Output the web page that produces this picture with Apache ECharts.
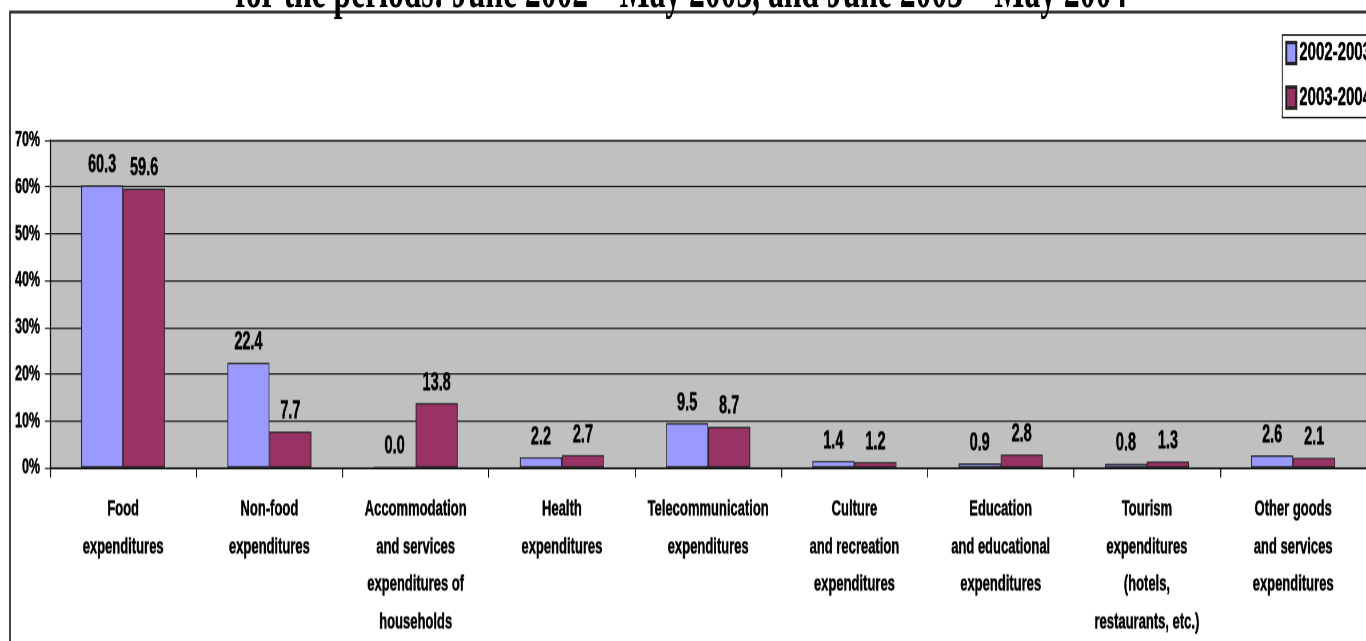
<!DOCTYPE html>
<html>
<head>
<meta charset="utf-8">
<script src="https://cdn.jsdelivr.net/npm/echarts@6/dist/echarts.min.js"></script>
<style>
html,body{margin:0;padding:0;background:#fff;width:1366px;height:641px;}
#wrap{width:1366px;height:641px;position:relative;}
#chart{position:absolute;left:0;top:0;width:1366px;height:366.2857px;transform:scaleY(1.75);transform-origin:0 0;}
</style>
</head>
<body>
<div id="wrap"><div id="chart"></div></div>
<script>
const categories = [
  "Food\nexpenditures",
  "Non-food\nexpenditures",
  "Accommodation\nand services\nexpenditures of\nhouseholds",
  "Health\nexpenditures",
  "Telecommunication\nexpenditures",
  "Culture\nand recreation\nexpenditures",
  "Education\nand educational\nexpenditures",
  "Tourism\nexpenditures\n(hotels,\nrestaurants, etc.)",
  "Other goods\nand services\nexpenditures"
];
const seriesNames = ["2002-2003", "2003-2004"];
const values2002_2003 = [60.3, 22.4, 0.0, 2.2, 9.5, 1.4, 0.9, 0.8, 2.6];
const values2003_2004 = [59.6, 7.7, 13.8, 2.7, 8.7, 1.2, 2.8, 1.3, 2.1];
const yTicks = [0, 10, 20, 30, 40, 50, 60, 70];
const titleText = "for the periods: June 2002 \u2013 May 2003, and June 2003 \u2013 May 2004";

// The picture is stretched vertically; layout is done in unstretched coordinates.
const SY = 1.75;
const SANS = '"Liberation Sans", Arial, sans-serif';
const thick = {textBorderColor: '#000', textBorderWidth: 0.3};

const chart = echarts.init(document.getElementById('chart'), null, {renderer: 'canvas', devicePixelRatio: SY});
const labelStyle = Object.assign({
  show: true, position: 'top', distance: 4,
  fontFamily: SANS, fontWeight: 'bold', fontSize: 14.5, color: '#000',
  formatter: p => p.value.toFixed(1)
}, thick);
chart.setOption({
  backgroundColor: '#ffffff',
  animation: false,
  title: {
    text: titleText,
    left: 676, top: -25, textAlign: 'center',
    textStyle: {fontFamily: '"Liberation Serif", "Times New Roman", serif', fontWeight: 'bold', fontSize: 31.6, color: '#000'}
  },
  graphic: [{
    type: 'rect', z: -10, silent: true,
    shape: {x: 10, y: 12 / SY, width: 1400, height: 700},
    style: {fill: '#fff', stroke: '#333', lineWidth: 1.6}
  }],
  legend: {
    orient: 'vertical', left: 1282, top: 35 / SY,
    data: seriesNames,
    icon: 'rect', itemWidth: 10, itemHeight: 12, itemGap: 10,
    padding: [2.7, 40, 3.8, 3],
    backgroundColor: '#fff', borderColor: '#000', borderWidth: 0.8,
    textStyle: Object.assign({fontFamily: SANS, fontWeight: 'bold', fontSize: 15, lineHeight: 14, color: '#000', padding: [0, 0, 0, -2]}, thick)
  },
  grid: {left: 50, top: 140 / SY, width: 1320, height: 328 / SY, containLabel: false,
    show: true, backgroundColor: '#C0C0C0', borderColor: '#808080', borderWidth: 0.7},
  xAxis: {
    type: 'category', data: categories, boundaryGap: true,
    axisLine: {show: true, lineStyle: {color: '#000', width: 0.7}},
    axisTick: {show: true, length: 10 / SY, inside: false, lineStyle: {color: '#000', width: 1}},
    axisLabel: Object.assign({interval: 0, margin: 13, fontFamily: SANS, fontWeight: 'bold', fontSize: 13, lineHeight: 21.5, color: '#000', align: 'center'}, thick)
  },
  yAxis: {
    type: 'value', min: yTicks[0], max: yTicks[yTicks.length - 1], interval: 10,
    axisLine: {show: true, lineStyle: {color: '#000', width: 1}},
    axisTick: {show: true, length: 5, lineStyle: {color: '#000', width: 0.7}},
    splitLine: {show: true, lineStyle: {color: '#000', width: 0.7}},
    axisLabel: Object.assign({margin: 10, formatter: '{value}%', fontFamily: SANS, fontWeight: 'bold', fontSize: 12.5, color: '#000'}, thick)
  },
  series: [
    {name: seriesNames[0], type: 'bar', data: values2002_2003, barWidth: 42, barGap: '0%',
      itemStyle: {color: '#9999FF', borderColor: '#222', borderWidth: 0.8}, label: labelStyle},
    {name: seriesNames[1], type: 'bar', data: values2003_2004, barWidth: 42, barGap: '0%',
      itemStyle: {color: '#993366', borderColor: '#222', borderWidth: 0.8}, label: labelStyle}
  ]
});
</script>
</body>
</html>
